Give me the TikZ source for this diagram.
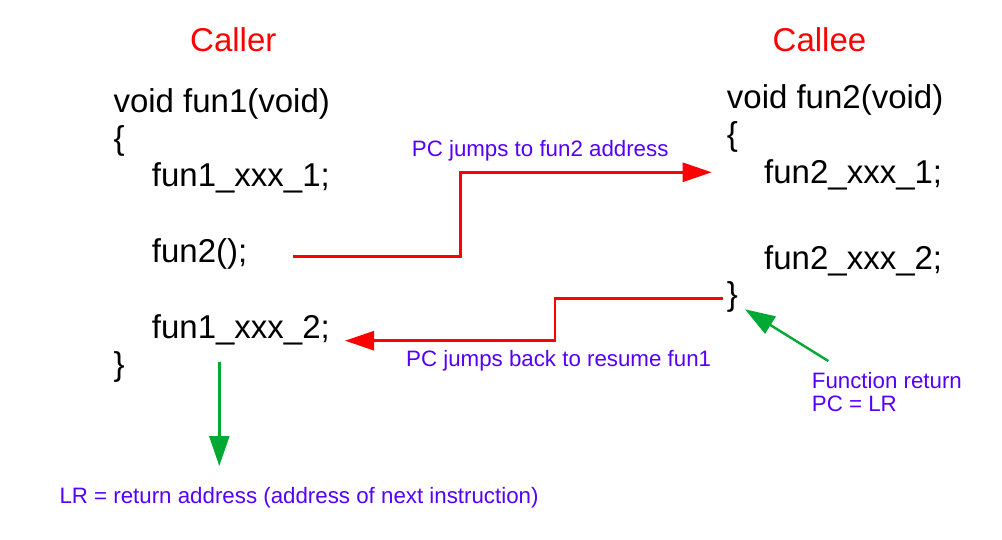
\documentclass[tikz,border=0pt]{standalone}
\usepackage{fontspec}
\setmainfont{Liberation Sans}
\usetikzlibrary{arrows.meta}
\definecolor{myred}{RGB}{255,0,0}
\definecolor{mygreen}{RGB}{0,169,51}
\definecolor{myblue}{RGB}{85,0,255}
\begin{document}
\begin{tikzpicture}[x=1pt,y=-1pt,
  code/.style={anchor=base west,inner sep=0pt,font=\fontsize{33}{38}\selectfont},
  title/.style={anchor=base,inner sep=0pt,text=myred,font=\fontsize{33}{38}\selectfont},
  note/.style={anchor=base west,inner sep=0pt,text=myblue,font=\fontsize{22.3}{23}\selectfont},
  redarrow/.style={draw=myred,line width=2.7pt,-{Triangle[length=29pt,width=19pt]}},
  greenarrow/.style={draw=mygreen,line width=2.4pt,-{Triangle[length=30pt,width=20pt]}}]
\useasboundingbox (0,0) rectangle (1002,540);
% titles
\node[title] (caller) at (233.3,51.7) {Caller};
\node[title] (callee) at (819.5,51.7) {Callee};
% caller code
\node[code] (l1) at (113.3,113) {void fun1(void)};
\node[code] (l2) at (113.3,150) {\{};
\node[code] (l3) at (151.7,187) {fun1\_xxx\_1;};
\node[code] (l4) at (151.7,263) {fun2();};
\node[code] (l5) at (151.7,338) {fun1\_xxx\_2;};
\node[code] (l6) at (113.3,375) {\}};
% callee code
\node[code] (r1) at (726.7,108.3) {void fun2(void)};
\node[code] (r2) at (726.7,145.5) {\{};
\node[code] (r3) at (764,183.3) {fun2\_xxx\_1;};
\node[code] (r4) at (764,269.3) {fun2\_xxx\_2;};
\node[code] (r5) at (726.7,305.5) {\}};
% notes
\node[note] (n1) at (411.7,156.7) {PC jumps to fun2 address};
\node[note] (n2) at (406,366) {PC jumps back to resume fun1};
\node[note,align=left,anchor=north west] (n3) at (811.7,372) {Function return\\PC = LR};
\node[note] (n4) at (59.3,503.3) {LR = return address (address of next instruction)};
% coordinates
\coordinate (s1) at (293.3,256.7);
\coordinate (m1) at (460.7,172.3);
\coordinate (e1) at (711.7,172.3);
\coordinate (s2) at (723.3,298.3);
\coordinate (m2) at (555,340.7);
\coordinate (e2) at (345,340.7);
\coordinate (s3) at (219.3,361.7);
\coordinate (e3) at (219.3,466);
\coordinate (s4) at (828.3,361);
\coordinate (e4) at (745,309.3);
% arrows
\draw[redarrow] (s1) -| (m1) -- (e1);
\draw[redarrow] (s2) -| (m2) -- (e2);
\draw[greenarrow] (s3) -- (e3);
\draw[greenarrow] (s4) -- (e4);
\end{tikzpicture}
\end{document}
